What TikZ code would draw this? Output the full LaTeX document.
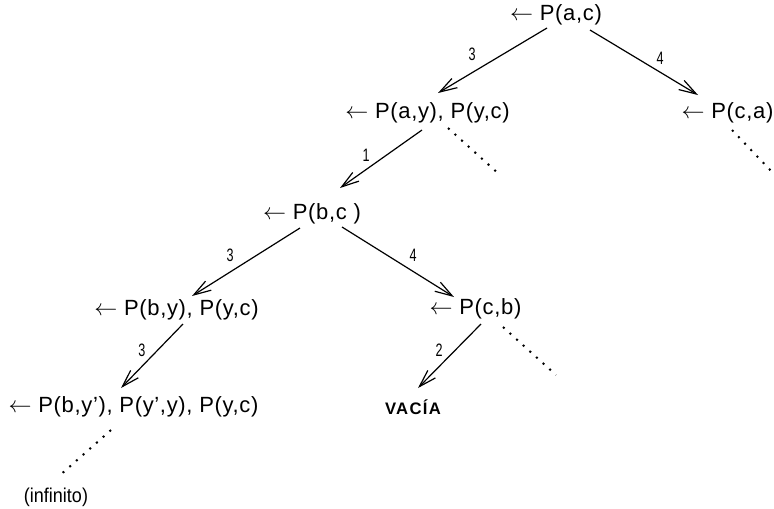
\documentclass[tikz,border=0pt]{standalone}
\usepackage{fontspec}
\setmainfont{Liberation Sans}[LetterSpace=3]
\newfontfamily\narrowfont[FakeStretch=0.7]{Liberation Sans}
\newfontfamily\infinfont[FakeStretch=0.9]{Liberation Sans}
\newfontfamily\boldspaced[LetterSpace=8]{Liberation Sans}
\usetikzlibrary{arrows.meta,calc}
\tikzset{
  goal/.style={inner sep=0pt, font=\fontsize{16.5}{19}\selectfont},
  elabel/.style={inner sep=0pt, font=\narrowfont\fontsize{13.5}{15}\selectfont},
  edge/.style={line width=0.9pt, -{Straight Barb[length=13pt,width=8pt,line width=0.9pt]}},
  dots/.style={line width=1.5pt, dash pattern=on 1.5pt off 5.2pt},
}
\begin{document}
\begin{tikzpicture}[x=0.75pt,y=-0.75pt]
\useasboundingbox (0,0) rectangle (774,508);
\node[goal] (r)  at (556,15)  {$\leftarrow$ P(a,c)};
\node[goal] (n1) at (427.5,113) {$\leftarrow$ P(a,y), P(y,c)};
\node[goal] (n2) at (727.5,113) {$\leftarrow$ P(c,a)};
\node[goal] (n3) at (312,214) {$\leftarrow$ P(b,c )};
\node[goal] (n4) at (176.5,310) {$\leftarrow$ P(b,y), P(y,c)};
\node[goal] (n5) at (475.5,309) {$\leftarrow$ P(c,b)};
\node[goal] (n6) at (133.5,407) {$\leftarrow$ P(b,y’), P(y’,y), P(y,c)};
\node[inner sep=0pt, font=\boldspaced\bfseries\fontsize{12.5}{14}\selectfont] (n7) at (413,407) {VACÍA};
\node[inner sep=0pt, font=\infinfont\fontsize{15}{17}\selectfont] (n8) at (56,497) {(infinito)};

\draw[edge] ($(r)+(-9,13)$) -- ($(n1)+(10.5,-20)$);
\draw[edge] ($(r)+(34,15)$) -- ($(n2)+(-29.5,-18)$);
\draw[edge] ($(n1)+(-5.5,17)$) -- ($(n3)+(28,-26)$);
\draw[edge] ($(n3)+(-12,14)$) -- ($(n4)+(15.5,-14)$);
\draw[edge] ($(n3)+(30,13)$) -- ($(n5)+(-21.5,-12)$);
\draw[edge] ($(n4)+(6.5,14)$) -- ($(n6)+(-12.5,-19)$);
\draw[edge] ($(n5)+(5.5,15)$) -- ($(n7)+(5,-19)$);

\coordinate (d1) at (500,175);
\coordinate (d2) at (773,173);
\coordinate (d3) at (556,375);
\draw[dots] ($(n1)+(20.5,15)$) -- (d1);
\draw[dots] ($(n2)+(4.5,17)$) -- (d2);
\draw[dots] ($(n5)+(27.5,18)$) -- (d3);
\draw[dots] ($(n6)+(-22.5,23)$) -- ($(n8)+(2,-20)$);

\node[elabel] (l1) at (472,54) {3};
\node[elabel] (l2) at (660,58) {4};
\node[elabel] (l3) at (366,155) {1};
\node[elabel] (l4) at (230,255) {3};
\node[elabel] (l5) at (413,255) {4};
\node[elabel] (l6) at (142,350) {3};
\node[elabel] (l7) at (439,350) {2};
\end{tikzpicture}
\end{document}
